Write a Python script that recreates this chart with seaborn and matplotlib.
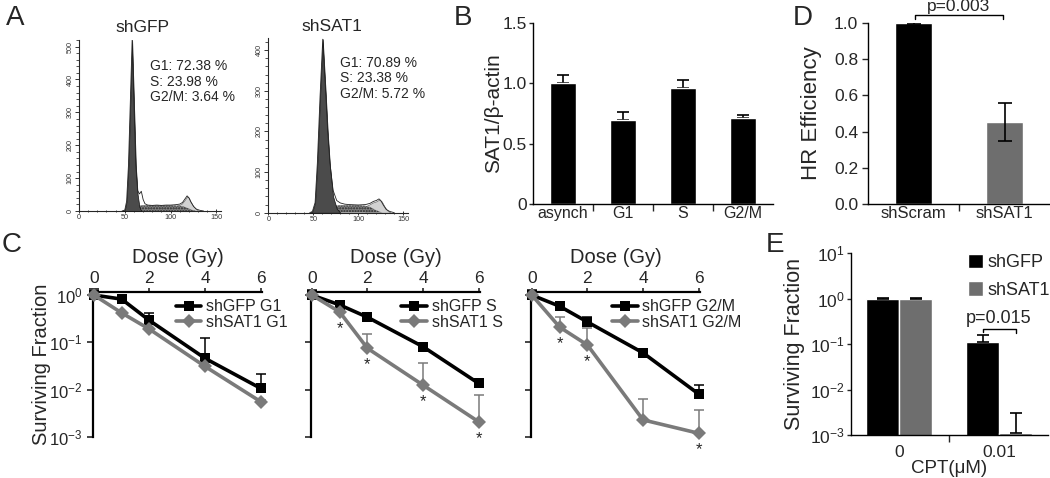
import numpy as np
import pandas as pd
import matplotlib
matplotlib.use("Agg")
import matplotlib.pyplot as plt
import seaborn as sns
from matplotlib.ticker import FixedLocator, MultipleLocator, LogLocator, LogFormatterSciNotation, NullLocator, NullFormatter

sns.set_theme(style="ticks")
plt.rcParams["font.family"] = ["Liberation Sans", "DejaVu Sans"]
plt.rcParams["mathtext.fontset"] = "custom"
plt.rcParams["mathtext.rm"] = "Liberation Sans"
plt.rcParams["mathtext.it"] = "Liberation Sans:italic"
plt.rcParams["mathtext.default"] = "regular"

BLACK = "#000000"
GRAY = "#7a7a7a"
BARGRAY = "#6e6e6e"

# ---------------- Panel A: cell-cycle histograms ----------------
gfp_total_ch = [47, 50, 52, 54, 56, 58, 60, 62, 64, 66, 68, 70, 72, 75, 80, 85, 90, 95, 100, 105,
                110, 113, 116, 118, 120, 122, 125, 128, 132, 136]
gfp_total = [0, 3, 30, 140, 330, 520, 330, 140, 62, 52, 60, 35, 22, 18, 17, 18, 17, 18, 18, 19,
             21, 26, 38, 46, 40, 28, 14, 6, 2, 0]
gfp_g1_ch = [47, 50, 52, 54, 56, 58, 60, 62, 64, 66, 68]
gfp_g1 = [0, 3, 30, 140, 330, 520, 330, 140, 50, 12, 0]
gfp_s_ch = [52, 56, 60, 65, 70, 80, 90, 100, 110, 115, 120, 125, 128]
gfp_s = [0, 6, 12, 16, 17, 17, 17, 17, 16, 13, 7, 2, 0]
gfp_g2_ch = [104, 108, 112, 115, 118, 120, 122, 125, 128, 131]
gfp_g2 = [14, 17, 22, 32, 44, 40, 28, 14, 5, 0]
gfp_text = "G1: 72.38 %\nS: 23.98 %\nG2/M: 3.64 %"

sat_total_ch = [46, 49, 52, 54.5, 57.5, 60.5, 64, 66, 68.5, 72, 76, 80, 85, 90, 100, 108, 113, 117,
                120, 123, 125, 128, 131, 135, 140]
sat_total = [0, 3, 25, 122, 286, 427, 286, 200, 122, 55, 30, 24, 21, 20, 19, 20, 23, 28,
             30, 34, 30, 18, 8, 3, 0]
sat_g1_ch = [46, 49, 52, 54.5, 57.5, 60.5, 64, 66, 68.5, 72, 76, 80]
sat_g1 = [0, 3, 25, 122, 286, 427, 286, 200, 115, 40, 10, 0]
sat_s_ch = [55, 60, 66, 72, 80, 90, 100, 108, 113, 118, 123, 127]
sat_s = [0, 8, 14, 17, 18, 18, 18, 17, 14, 8, 3, 0]
sat_g2_ch = [108, 112, 116, 120, 123, 126, 129, 132, 136]
sat_g2 = [16, 20, 25, 28, 32, 28, 16, 6, 0]
sat_text = "G1: 70.89 %\nS: 23.38 %\nG2/M: 5.72 %"

# ---------------- Panel B ----------------
b_cats = ["asynch", "G1", "S", "G2/M"]
b_vals = [1.00, 0.70, 0.96, 0.71]
b_err = [0.07, 0.06, 0.07, 0.03]

# ---------------- Panel C ----------------
dose = [0, 1, 2, 4, 6]
g1_gfp = [1.0, 0.82, 0.29, 0.046, 0.0107]
g1_gfp_hi = [1.35, 0.88, 0.41, 0.126, 0.021]
g1_sat = [1.0, 0.42, 0.19, 0.031, 0.0056]
g1_sat_hi = [1.2, 0.44, 0.2, 0.033, 0.006]
s_gfp = [1.0, 0.62, 0.34, 0.081, 0.0136]
s_gfp_hi = [1.3, 0.66, 0.36, 0.085, 0.0145]
s_sat = [1.0, 0.44, 0.075, 0.0125, 0.0021]
s_sat_hi = [1.2, 0.47, 0.15, 0.036, 0.0078]
m_gfp = [1.0, 0.58, 0.27, 0.06, 0.0081]
m_gfp_hi = [1.3, 0.62, 0.34, 0.072, 0.0126]
m_sat = [1.0, 0.21, 0.088, 0.0023, 0.0012]
m_sat_hi = [1.2, 0.35, 0.2, 0.0065, 0.0038]
s_stars = [1, 2, 3, 4]
m_stars = [1, 2, 4]

# ---------------- Panel D ----------------
d_cats = ["shScram", "shSAT1"]
d_vals = [1.0, 0.455]
d_err = [0.004, 0.105]

# ---------------- Panel E ----------------
e_cpt = ["0", "0.01"]
e_lines = ["shGFP", "shSAT1"]
e_gfp = [1.0, 0.11]
e_gfp_hi = [1.05, 0.158]
e_sat = [1.0, 0.0011]
e_sat_hi = [1.03, 0.003]

fig = plt.figure(figsize=(10.5, 4.78), dpi=100)


def panel_letter(x, y, s):
    fig.text(x / 1050, 1 - y / 478, s, fontsize=20, ha="center", va="center")


# ---- A ----
def histo(rect, tot_ch, tot, g1_ch, g1, s_ch, s, g2_ch, g2, ymax, title, tx, ty, txt, txy):
    ax = fig.add_axes(rect)
    ax.fill_between(tot_ch, tot, color="white", zorder=1)
    ax.fill_between(g2_ch, g2, color="#d2d2d2", lw=0.4, edgecolor="#555", zorder=2)
    ax.fill_between(s_ch, s, facecolor="#808080", hatch="......", edgecolor="#2a2a2a", lw=0, zorder=3)
    ax.fill_between(g1_ch, g1, color="#4b4b4b", lw=0.5, edgecolor="#111", zorder=4)
    sns.lineplot(x=tot_ch, y=tot, color="#222", lw=0.6, ax=ax, zorder=5)
    ax.set_xlim(0, 155)
    ax.set_ylim(0, ymax)
    ax.xaxis.set_major_locator(FixedLocator([0, 50, 100, 150]))
    ax.xaxis.set_minor_locator(MultipleLocator(10))
    ax.yaxis.set_major_locator(MultipleLocator(100))
    ax.yaxis.set_minor_locator(MultipleLocator(20))
    for sp in ["top", "right"]:
        ax.spines[sp].set_visible(False)
    for sp in ["left", "bottom"]:
        ax.spines[sp].set_linewidth(0.8)
    ax.tick_params(which="major", labelsize=5.2, length=3, width=0.7, pad=1, colors="#333")
    ax.tick_params(which="minor", length=2, width=0.6, colors="#333")
    ax.tick_params(axis="x", which="both", direction="inout")
    plt.setp(ax.get_yticklabels(), rotation=90, va="center")
    ax.text(tx, ty, title, transform=ax.transAxes, fontsize=12.5, ha="center", va="baseline")
    ax.text(txy[0], txy[1], txt, transform=ax.transAxes, fontsize=10, ha="left", va="top",
            linespacing=1.12)
    return ax


histo([79 / 1050, 1 - 211 / 478, 142 / 1050, 171 / 478], gfp_total_ch, gfp_total, gfp_g1_ch, gfp_g1,
      gfp_s_ch, gfp_s, gfp_g2_ch, gfp_g2, 520, "shGFP", 0.444, 1.047, gfp_text, (0.5, 0.886))
histo([268.3 / 1050, 1 - 212.7 / 478, 139.5 / 1050, 174.7 / 478], sat_total_ch, sat_total, sat_g1_ch,
      sat_g1, sat_s_ch, sat_s, sat_g2_ch, sat_g2, 430, "shSAT1", 0.457, 1.04, sat_text, (0.514, 0.897))
panel_letter(15, 18, "A")


def simple_axes(ax, lw=1.0):
    for sp in ["top", "right"]:
        ax.spines[sp].set_visible(False)
    for sp in ["left", "bottom"]:
        ax.spines[sp].set_linewidth(lw)
        ax.spines[sp].set_color("black")


# ---- B ----
axB = fig.add_axes([533 / 1050, 1 - 204 / 478, 240 / 1050, 181 / 478])
sns.barplot(x=b_cats, y=b_vals, color=BLACK, saturation=1, width=0.44, errorbar=None, ax=axB, zorder=2)
axB.errorbar(range(len(b_cats)), b_vals, yerr=[np.zeros(len(b_vals)), b_err], fmt="none",
             ecolor=BLACK, elinewidth=1.2, capsize=4, capthick=1.2, zorder=1)
axB.set_xlim(-0.5, 3.5)
axB.set_ylim(0, 1.5)
axB.set_yticks([0, 0.5, 1.0, 1.5])
axB.set_yticklabels(["0", "0.5", "1.0", "1.5"])
axB.xaxis.set_minor_locator(FixedLocator([0.5, 1.5, 2.5]))
simple_axes(axB)
axB.tick_params(axis="x", which="major", length=0, pad=1.5, labelsize=11.5)
axB.tick_params(axis="x", which="minor", length=5, width=1, direction="out", bottom=True)
axB.tick_params(axis="y", length=3, width=1, pad=1.5, labelsize=12.5, direction="out")
axB.set_ylabel("SAT1/β-actin", fontsize=15)
axB.yaxis.set_label_coords(-0.125, 0.5)
panel_letter(463, 18, "B")

# ---- D ----
axD = fig.add_axes([868 / 1050, 1 - 204 / 478, 182 / 1050, 181 / 478])
sns.barplot(x=d_cats, y=d_vals, hue=d_cats, palette=[BLACK, BARGRAY], saturation=1, width=0.4,
            errorbar=None, legend=False, ax=axD, zorder=2)
axD.errorbar(range(2), d_vals, yerr=d_err, fmt="none", ecolor=BLACK, elinewidth=1.2, capsize=5,
             capthick=1.2, zorder=3)
axD.set_xlim(-0.5, 1.5)
axD.set_ylim(0, 1.0)
axD.set_yticks([0, 0.2, 0.4, 0.6, 0.8, 1.0])
axD.set_yticklabels(["0.0", "0.2", "0.4", "0.6", "0.8", "1.0"])
axD.xaxis.set_minor_locator(FixedLocator([0.5]))
simple_axes(axD)
axD.tick_params(axis="x", which="major", length=0, pad=1.5, labelsize=12)
axD.tick_params(axis="x", which="minor", length=5, width=1, direction="out", bottom=True)
axD.tick_params(axis="y", length=4, width=1, pad=3, labelsize=12.5, direction="out")
axD.set_ylabel("HR Efficiency", fontsize=16)
axD.yaxis.set_label_coords(-0.255, 0.5)
axD.plot([0.02, 0.02, 0.98, 0.98], [1.022, 1.044, 1.044, 1.022], color=BLACK, lw=1, clip_on=False)
axD.text(0.5, 1.052, "p=0.003", ha="center", va="bottom", fontsize=12.5, clip_on=False)
panel_letter(803, 18, "D")


# ---- C ----
def survival(rect, gfp, gfp_hi, sat, sat_hi, names, stars, leg_x, first):
    ax = fig.add_axes(rect)
    df = pd.DataFrame({"dose": dose + dose, "sf": gfp + sat,
                       "line": [names[0]] * len(dose) + [names[1]] * len(dose)})
    ax.errorbar(dose, gfp, yerr=[np.zeros(len(gfp)), np.array(gfp_hi) - np.array(gfp)], fmt="none",
                ecolor=BLACK, elinewidth=1.1, capsize=3.5, capthick=1.1, zorder=2, clip_on=False)
    ax.errorbar(dose, sat, yerr=[np.zeros(len(sat)), np.array(sat_hi) - np.array(sat)], fmt="none",
                ecolor=GRAY, elinewidth=1.1, capsize=3.5, capthick=1.1, zorder=2, clip_on=False)
    sns.lineplot(data=df, x="dose", y="sf", hue="line", style="line", palette=[BLACK, GRAY],
                 markers={names[0]: "s", names[1]: "D"}, dashes=False, lw=2.6, markersize=7,
                 markeredgewidth=0, ax=ax, zorder=3, clip_on=False)
    ax.set_yscale("log")
    ax.set_ylim(1e-3, 1.16)
    ax.set_xlim(-0.03, 6.05)
    ax.xaxis.tick_top()
    ax.xaxis.set_label_position("top")
    ax.set_xticks([0, 2, 4, 6])
    ax.yaxis.set_major_locator(LogLocator(base=10, numticks=10))
    ax.yaxis.set_minor_locator(NullLocator())
    if first:
        ax.yaxis.set_major_formatter(LogFormatterSciNotation())
        ax.set_ylabel("Surviving Fraction", fontsize=14.5)
        ax.yaxis.set_label_coords(-0.25, 0.5)
    else:
        ax.yaxis.set_major_formatter(NullFormatter())
        ax.set_ylabel("")
    ax.set_xlabel("Dose (Gy)", fontsize=14.5)
    ax.xaxis.set_label_coords(0.5, 1.17)
    ax.xaxis.label.set_va("bottom")
    for sp in ["bottom", "right"]:
        ax.spines[sp].set_visible(False)
    for sp in ["top", "left"]:
        ax.spines[sp].set_linewidth(1.6)
        ax.spines[sp].set_color("black")
    ax.tick_params(axis="x", length=3, width=1.2, pad=1, labelsize=12.5, direction="out")
    ax.tick_params(axis="y", length=4, width=1.2, pad=3.5, labelsize=12, direction="out")
    h, l = ax.get_legend_handles_labels()
    ax.legend(h, l, loc="upper left", bbox_to_anchor=(leg_x, 0.95), frameon=False, fontsize=11.5,
              handlelength=1.6, handletextpad=0.3, labelspacing=0.05, borderpad=0, borderaxespad=0)
    for i in stars:
        ax.annotate("*", (dose[i], sat[i]), xytext=(0, -12), textcoords="offset points",
                    ha="center", va="center", fontsize=12)
    return ax


survival([93 / 1050, 1 - 437 / 478, 169 / 1050, 145 / 478], g1_gfp, g1_gfp_hi, g1_sat, g1_sat_hi,
         ["shGFP G1", "shSAT1 G1"], [], 0.49, True)
survival([311 / 1050, 1 - 437 / 478, 169 / 1050, 145 / 478], s_gfp, s_gfp_hi, s_sat, s_sat_hi,
         ["shGFP S", "shSAT1 S"], s_stars, 0.535, False)
survival([531 / 1050, 1 - 437 / 478, 169 / 1050, 145 / 478], m_gfp, m_gfp_hi, m_sat, m_sat_hi,
         ["shGFP G2/M", "shSAT1 G2/M"], m_stars, 0.48, False)
panel_letter(12, 245, "C")

# ---- E ----
axE = fig.add_axes([851 / 1050, 1 - 435 / 478, 197 / 1050, 182 / 478])
dfE = pd.DataFrame({"cpt": e_cpt + e_cpt, "sf": e_gfp + e_sat,
                    "line": [e_lines[0]] * 2 + [e_lines[1]] * 2})
sns.barplot(data=dfE, x="cpt", y="sf", hue="line", palette=[BLACK, BARGRAY], saturation=1,
            width=0.66, errorbar=None, ax=axE, zorder=2)
off = 0.165
axE.errorbar(np.arange(2) - off, e_gfp, yerr=[np.zeros(2), np.array(e_gfp_hi) - np.array(e_gfp)],
             fmt="none", ecolor=BLACK, elinewidth=1.2, capsize=4, capthick=1.2, zorder=3)
axE.errorbar(np.arange(2) + off, e_sat, yerr=[np.zeros(2), np.array(e_sat_hi) - np.array(e_sat)],
             fmt="none", ecolor=BLACK, elinewidth=1.2, capsize=4, capthick=1.2, zorder=3)
axE.set_yscale("log")
axE.set_ylim(1e-3, 10)
axE.set_xlim(-0.48, 1.49)
axE.yaxis.set_major_locator(LogLocator(base=10, numticks=10))
axE.yaxis.set_minor_locator(NullLocator())
axE.yaxis.set_major_formatter(LogFormatterSciNotation())
axE.xaxis.set_minor_locator(FixedLocator([0.5]))
simple_axes(axE)
axE.tick_params(axis="x", which="major", length=0, pad=7, labelsize=12.5)
axE.tick_params(axis="x", which="minor", length=5, width=1, direction="out", bottom=True)
axE.tick_params(axis="y", length=3, width=1, pad=1.5, labelsize=12.5, direction="out")
axE.set_ylabel("Surviving Fraction", fontsize=15.5)
axE.yaxis.set_label_coords(-0.234, 0.5)
axE.set_xlabel("CPT(μM)", fontsize=13.5)
axE.xaxis.set_label_coords(0.5, -0.135)
axE.xaxis.label.set_va("top")
h, l = axE.get_legend_handles_labels()
axE.legend(h, l, loc="upper left", bbox_to_anchor=(0.594, 0.995), frameon=False, fontsize=13,
           handlelength=0.85, handleheight=0.85, handletextpad=0.25, labelspacing=0.55, borderpad=0,
           borderaxespad=0)
axE.plot([1 - off, 1 - off, 1 + off, 1 + off], [0.18, 0.215, 0.215, 0.175], color=BLACK, lw=1)
axE.text(1.0, 0.36, "p=0.015", ha="center", va="center", fontsize=13)
panel_letter(775, 245, "E")

fig.savefig("out.png", dpi=100)
